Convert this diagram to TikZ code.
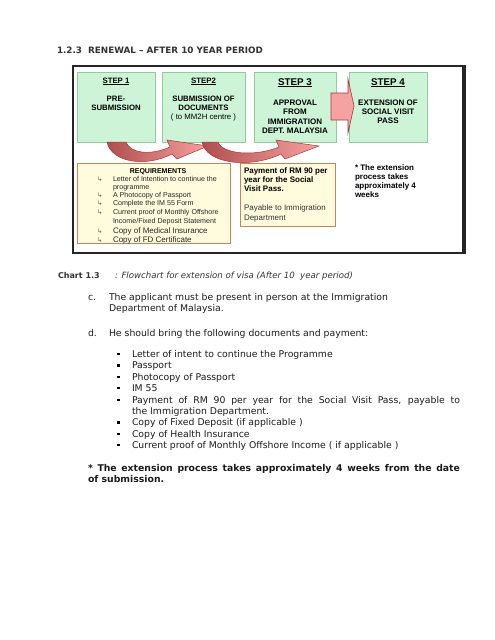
\documentclass[tikz,border=0pt]{standalone}
\usepackage{fontspec}
\setmainfont{DejaVu Sans}
\newfontfamily\arial{Liberation Sans}
\newfontfamily\dejavu{DejaVu Sans}
\definecolor{stepfill}{HTML}{CDF4D7}
\definecolor{stepline}{HTML}{93CB9C}
\definecolor{reqfill}{HTML}{FFFBDC}
\definecolor{reqline}{HTML}{C4845C}
\definecolor{arrowpink}{HTML}{F6A2A2}
\definecolor{arrowdark}{HTML}{B04E4E}
\definecolor{arrowline}{HTML}{A83838}
\definecolor{bodytext}{HTML}{1A1A1A}
\begin{document}
\begin{tikzpicture}[x=1pt,y=-1pt,
  txt/.style={inner sep=0pt, outer sep=0pt},
  stepbox/.style={draw=stepline, fill=stepfill, line width=0.9pt, inner sep=0pt, anchor=north west},
  notebox/.style={draw=reqline, fill=reqfill, line width=0.8pt, inner sep=0pt, anchor=north west},
  steptitle/.style={txt, anchor=base, font=\arial\bfseries\fontsize{7.8}{8}\selectfont},
  bigsteptitle/.style={txt, anchor=base, font=\arial\bfseries\fontsize{9.8}{10}\selectfont},
  stepline1/.style={txt, anchor=base, font=\arial\bfseries\fontsize{7.8}{8}\selectfont},
  stepline2/.style={txt, anchor=base, font=\arial\bfseries\fontsize{8}{9}\selectfont},
  reqtxt/.style={txt, anchor=base west, font=\arial\fontsize{7.1}{7}\selectfont, text=black!85},
  reqtxtb/.style={txt, anchor=base west, font=\arial\fontsize{8}{8}\selectfont, text=black!85},
  reqsym/.style={txt, anchor=base west, font=\dejavu\fontsize{6.5}{6}\selectfont, text=black!60},
  paytxt/.style={txt, anchor=base west, font=\arial\bfseries\fontsize{8}{8}\selectfont},
  paytxtn/.style={txt, anchor=base west, font=\arial\fontsize{8}{8}\selectfont, text=black!80},
  body/.style={txt, anchor=base west, font=\fontsize{9.3}{11}\selectfont, text=bodytext},
  bulletsq/.style={fill=black, inner sep=0pt, minimum size=2.6pt},
  curvearrow/.style={draw=arrowline, line width=0.5pt, left color=arrowdark, right color=arrowpink},
  blockarrow/.style={draw=arrowline, line width=0.6pt, fill=arrowpink}
]
\useasboundingbox (0,0) rectangle (495,640);

% title
\node[txt, anchor=base west, font=\bfseries\fontsize{8.8}{10}\selectfont, text=black!80] (title) at (57,53) {1.2.3\ \ RENEWAL – AFTER 10 YEAR PERIOD};

% outer frame
\node[draw=black!85, line width=1.5pt, inner sep=0pt, minimum width=390pt, minimum height=187pt, anchor=north west] (frame) at (72,65) {};
\draw[black!85, line width=1.6pt] (frame.north east) ++(1.2,0) -- ++(0,188) -- ++(-391,0);

% step boxes
\node[stepbox, minimum width=78pt, minimum height=70pt] (s1) at (77,72) {};
\node[stepbox, minimum width=83pt, minimum height=70pt] (s2) at (162,72) {};
\node[stepbox, minimum width=82pt, minimum height=70pt] (s3) at (254,72) {};
\node[stepbox, minimum width=78pt, minimum height=70pt] (s4) at (349,72) {};

% step texts
\node[steptitle] (s1t) at (116,83) {\underline{STEP 1}};
\node[stepline1] (s1a) at (116,101) {PRE-};
\node[stepline1] (s1b) at (116,110) {SUBMISSION};

\node[steptitle] (s2t) at (203.5,83) {\underline{STEP2}};
\node[stepline1] (s2a) at (203.5,101) {SUBMISSION OF};
\node[stepline1] (s2b) at (203.5,110) {DOCUMENTS};
\node[txt, anchor=base, font=\arial\fontsize{7.8}{8}\selectfont] (s2c) at (203.5,119) {( to MM2H centre )};

\node[bigsteptitle] (s3t) at (295,85) {\underline{STEP 3}};
\node[stepline2] (s3a) at (295,105) {APPROVAL};
\node[stepline2] (s3b) at (295,114) {FROM};
\node[stepline2] (s3c) at (295,124) {IMMIGRATION};
\node[stepline2] (s3d) at (295,133) {DEPT. MALAYSIA};

\node[bigsteptitle] (s4t) at (388,85) {\underline{STEP 4}};
\node[stepline2] (s4a) at (388,105) {EXTENSION OF};
\node[stepline2] (s4b) at (388,114) {SOCIAL VISIT};
\node[stepline2] (s4c) at (388,123) {PASS};

% block arrow step3 -> step4
\path[blockarrow] (331,93) -- (348,93) -- (348,79) -- (354,106) -- (348,133) -- (348,120) -- (331,120) -- cycle;

% curved arrows
\path[curvearrow] (107,142) .. controls (111,162) and (145,168) .. (172,154)
  -- (177,159) -- (208,146) -- (167,140) -- (170,147)
  .. controls (150,156) and (130,153) .. (126,142) -- cycle;
\path[curvearrow] (202,142) .. controls (206,164) and (250,169) .. (281,154)
  -- (285,159) -- (319,146) -- (276,140) -- (279,147)
  .. controls (255,157) and (222,154) .. (218,142) -- cycle;

% requirements box
\node[notebox, minimum width=153pt, minimum height=80pt] (req) at (77,163) {};
\node[txt, anchor=base, font=\arial\bfseries\fontsize{7}{7}\selectfont] (reqh) at (158,173.5) {REQUIREMENTS};
\node[reqsym] (q1s) at (97,181) {↳};
\node[reqtxt] (q1) at (113,181) {Letter of Intention to continue the};
\node[reqtxt] (q1b) at (113,189) {programme};
\node[reqsym] (q2s) at (97,197) {↳};
\node[reqtxt] (q2) at (113,197) {A Photocopy of Passport};
\node[reqsym] (q3s) at (97,205.5) {↳};
\node[reqtxt] (q3) at (113,205.5) {Complete the IM 55 Form};
\node[reqsym] (q4s) at (97,214.5) {↳};
\node[reqtxt] (q4) at (113,214.5) {Current proof of Monthly Offshore};
\node[reqtxt] (q4b) at (113,223) {Income/Fixed Deposit Statement};
\node[reqsym] (q5s) at (97,233) {↳};
\node[reqtxtb] (q5) at (113,233) {Copy of Medical Insurance};
\node[reqsym] (q6s) at (97,242) {↳};
\node[reqtxtb] (q6) at (113,242) {Copy of FD Certificate};

% payment box
\node[notebox, minimum width=95pt, minimum height=63pt] (pay) at (240,163) {};
\node[paytxt] (p1) at (244,173.5) {Payment of RM 90 per};
\node[paytxt] (p2) at (244,182.5) {year for the Social};
\node[paytxt] (p3) at (244,191.5) {Visit Pass.};
\node[paytxtn] (p4) at (244,210.5) {Payable to Immigration};
\node[paytxtn] (p5) at (244,220) {Department};

% note
\node[paytxt] (n1) at (355,170.5) {* The extension};
\node[paytxt] (n2) at (355,179.5) {process takes};
\node[paytxt] (n3) at (355,188.5) {approximately 4};
\node[paytxt] (n4) at (355,197.5) {weeks};

% caption
\node[txt, anchor=base west, font=\bfseries\fontsize{8}{10}\selectfont, text=black!80] (cap1) at (58,278) {Chart 1.3};
\node[txt, anchor=base west, font=\itshape\fontsize{8.6}{10}\selectfont, text=black!80] (cap2) at (115,278) {: Flowchart for extension of visa (After 10\ \ year period)};

% paragraphs
\node[body] (c) at (88,300) {c.};
\node[body] (c1) at (109,300) {The applicant must be present in person at the Immigration};
\node[body] (c2) at (109,311.5) {Department of Malaysia.};
\node[body] (d) at (88,336) {d.};
\node[body] (d1) at (109,336) {He should bring the following documents and payment:};

% bullet list
\foreach \yy/\nm in {354/b1,365.5/b2,377/b3,388/b4,400/b5,422.5/b6,434/b7,445/b8}{
  \node[bulletsq] (\nm) at (118.5,\yy) {};
}
\node[body] (l1) at (132,357) {Letter of intent to continue the Programme};
\node[body] (l2) at (132,368.5) {Passport};
\node[body] (l3) at (132,380) {Photocopy of Passport};
\node[body] (l4) at (132,391) {IM 55};
\node[body] (l5) at (132,403) {\makebox[328pt][s]{Payment of RM 90 per year for the Social Visit Pass, payable to}};
\node[body] (l5b) at (132,414) {the Immigration Department.};
\node[body] (l6) at (132,425.5) {Copy of Fixed Deposit (if applicable )};
\node[body] (l7) at (132,437) {Copy of Health Insurance};
\node[body] (l8) at (132,448) {Current proof of Monthly Offshore Income ( if applicable )};

% final note
\node[body, font=\bfseries\fontsize{9.3}{11}\selectfont] (f1) at (88,471) {\makebox[372pt][s]{* The extension process takes approximately 4 weeks from the date}};
\node[body, font=\bfseries\fontsize{9.3}{11}\selectfont] (f2) at (88,482.5) {of submission.};
\end{tikzpicture}
\end{document}
